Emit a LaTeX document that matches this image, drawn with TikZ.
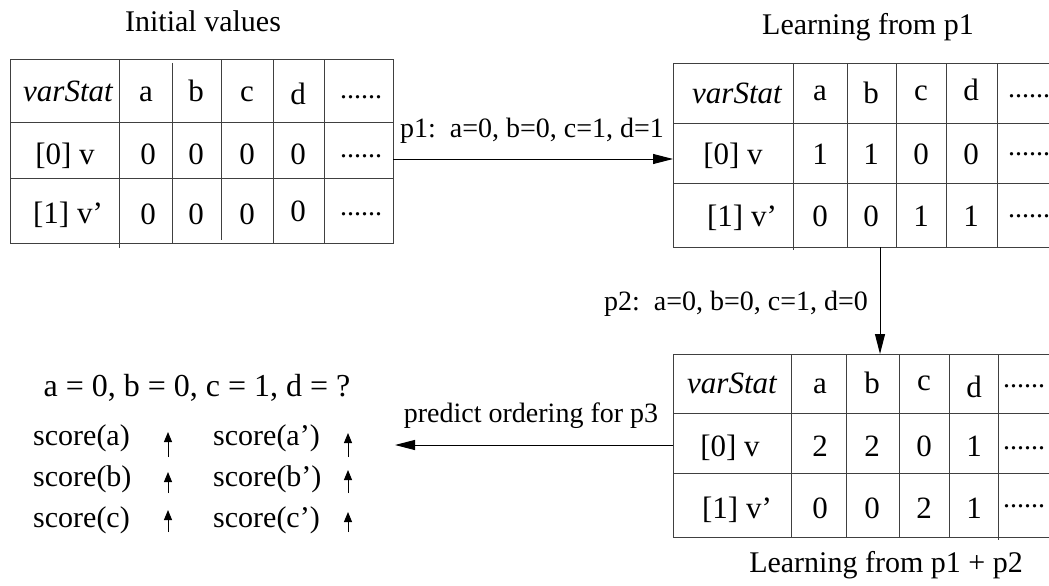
\documentclass[tikz,border=0pt]{standalone}
\usepackage{fontspec}
\setmainfont{Liberation Serif}
\usetikzlibrary{arrows.meta}
\begin{document}
\begin{tikzpicture}[x=1pt,y=-1pt,
  grid/.style={draw=black!75, line width=1pt},
  cell/.style={anchor=base, inner sep=0pt, font=\fontsize{31}{37}\selectfont},
  dotcell/.style={anchor=base, inner sep=0pt, font=\fontsize{28}{34}\selectfont},
  lbl/.style={anchor=base, inner sep=0pt, font=\fontsize{28}{34}\selectfont},
  ttl/.style={anchor=base, inner sep=0pt, font=\fontsize{30}{36}\selectfont},
  eqn/.style={anchor=base, inner sep=0pt, font=\fontsize{32}{38}\selectfont},
  scr/.style={anchor=base west, inner sep=0pt, font=\fontsize{30}{36}\selectfont},
  arr/.style={draw=black, line width=1pt, -{Triangle[length=20pt,width=10pt]}},
  sarr/.style={draw=black, line width=1pt, -{Triangle[length=10pt,width=8pt]}},
]
\useasboundingbox (0,0) rectangle (1049,586);

% ---------- titles ----------
\node[ttl] (tt1) at (203,32) {Initial values};
\node[ttl] (tt2) at (868,35) {Learning from p1};
\node[ttl] (tt3) at (886,572) {Learning from p1 + p2};

% ---------- table 1 ----------
\draw[grid] (10,60) rectangle (393,243);
\draw[grid] (10,122) -- (393,122);
\draw[grid] (10,178) -- (393,178);
\draw[grid] (119,60) -- (119,248);
\draw[grid] (172,63) -- (172,243);
\draw[grid] (221,60) -- (221,240);
\draw[grid] (273,60) -- (273,243);
\draw[grid] (324,60) -- (324,243);
\node[cell] (a00) at (68,101) {\itshape varStat};
\node[cell] (a01) at (146,101) {a};
\node[cell] (a02) at (196,101) {b};
\node[cell] (a03) at (247,101) {c};
\node[cell] (a04) at (298,104) {d};
\node[dotcell] (a05) at (361,99) {......};
\node[cell] (a10) at (65,164) {[0] v};
\node[cell] (a11) at (148,164) {0};
\node[cell] (a12) at (196,164) {0};
\node[cell] (a13) at (247,164) {0};
\node[cell] (a14) at (298,164) {0};
\node[dotcell] (a15) at (361,157) {......};
\node[cell] (a20) at (68,223) {[1] v'};
\node[cell] (a21) at (148,224) {0};
\node[cell] (a22) at (196,224) {0};
\node[cell] (a23) at (247,224) {0};
\node[cell] (a24) at (298,221) {0};
\node[dotcell] (a25) at (361,215) {......};

% ---------- table 2 ----------
\draw[grid] (673,64) rectangle (1060,247);
\draw[grid] (673,123) -- (1060,123);
\draw[grid] (673,183) -- (1060,183);
\draw[grid] (793,64) -- (793,250);
\draw[grid] (847,64) -- (847,247);
\draw[grid] (896,64) -- (896,247);
\draw[grid] (946,64) -- (946,247);
\draw[grid] (997,64) -- (997,247);
\node[cell] (b00) at (737,103) {\itshape varStat};
\node[cell] (b01) at (820,100) {a};
\node[cell] (b02) at (871,103) {b};
\node[cell] (b03) at (921,100) {c};
\node[cell] (b04) at (971,100) {d};
\node[dotcell] (b05) at (1029,97) {......};
\node[cell] (b10) at (733,164) {[0] v};
\node[cell] (b11) at (820,164) {1};
\node[cell] (b12) at (871,164) {1};
\node[cell] (b13) at (921,164) {0};
\node[cell] (b14) at (971,164) {0};
\node[dotcell] (b15) at (1029,155) {......};
\node[cell] (b20) at (742,226) {[1] v'};
\node[cell] (b21) at (820,226) {0};
\node[cell] (b22) at (871,226) {0};
\node[cell] (b23) at (921,226) {1};
\node[cell] (b24) at (971,226) {1};
\node[dotcell] (b25) at (1029,217) {......};

% ---------- table 3 ----------
\draw[grid] (673,354) rectangle (1060,537);
\draw[grid] (673,413) -- (1060,413);
\draw[grid] (673,473) -- (1060,473);
\draw[grid] (791,354) -- (791,537);
\draw[grid] (846,354) -- (846,537);
\draw[grid] (899,354) -- (899,537);
\draw[grid] (949,354) -- (949,537);
\draw[grid] (998,354) -- (998,540);
\node[cell] (c00) at (732,393) {\itshape varStat};
\node[cell] (c01) at (820,393) {a};
\node[cell] (c02) at (872,393) {b};
\node[cell] (c03) at (924,390) {c};
\node[cell] (c04) at (974,397) {d};
\node[dotcell] (c05) at (1024,387) {......};
\node[cell] (c10) at (730,456) {[0] v};
\node[cell] (c11) at (820,456) {2};
\node[cell] (c12) at (872,456) {2};
\node[cell] (c13) at (924,456) {0};
\node[cell] (c14) at (974,456) {1};
\node[dotcell] (c15) at (1024,449) {......};
\node[cell] (c20) at (737,518) {[1] v'};
\node[cell] (c21) at (820,518) {0};
\node[cell] (c22) at (872,518) {0};
\node[cell] (c23) at (924,518) {2};
\node[cell] (c24) at (974,518) {1};
\node[dotcell] (c25) at (1024,507) {......};

% ---------- connectors ----------
\coordinate (p1s) at (393,159);
\coordinate (p1e) at (673,159);
\draw[arr] (p1s) -- (p1e);
\node[lbl] (p1l) at (532,137) {p1:\ \ a=0, b=0, c=1, d=1};

\coordinate (p2s) at (880,247);
\coordinate (p2e) at (880,354);
\draw[arr] (p2s) -- (p2e);
\node[lbl] (p2l) at (736,310) {p2:\ \ a=0, b=0, c=1, d=0};

\coordinate (p3s) at (673,445);
\coordinate (p3e) at (395,445);
\draw[arr] (p3s) -- (p3e);
\node[lbl] (p3l) at (531,422) {predict ordering for p3};

% ---------- prediction ----------
\node[eqn] (eq) at (197,396) {a = 0, b = 0, c = 1, d = ?};
\node[scr] (sa) at (33,445) {score(a)};
\node[scr] (sb) at (33,486) {score(b)};
\node[scr] (sc) at (33,527) {score(c)};
\node[scr] (sa2) at (213,445) {score(a')};
\node[scr] (sb2) at (213,486) {score(b')};
\node[scr] (sc2) at (213,527) {score(c')};

\coordinate (u1s) at (168,457); \coordinate (u1e) at (168,432);
\coordinate (u2s) at (168,493); \coordinate (u2e) at (168,472);
\coordinate (u3s) at (168,532); \coordinate (u3e) at (168,510);
\coordinate (v1s) at (348,457); \coordinate (v1e) at (348,433);
\coordinate (v2s) at (348,493); \coordinate (v2e) at (348,470);
\coordinate (v3s) at (348,532); \coordinate (v3e) at (348,512);
\draw[sarr] (u1s) -- (u1e);
\draw[sarr] (u2s) -- (u2e);
\draw[sarr] (u3s) -- (u3e);
\draw[sarr] (v1s) -- (v1e);
\draw[sarr] (v2s) -- (v2e);
\draw[sarr] (v3s) -- (v3e);
\end{tikzpicture}
\end{document}
